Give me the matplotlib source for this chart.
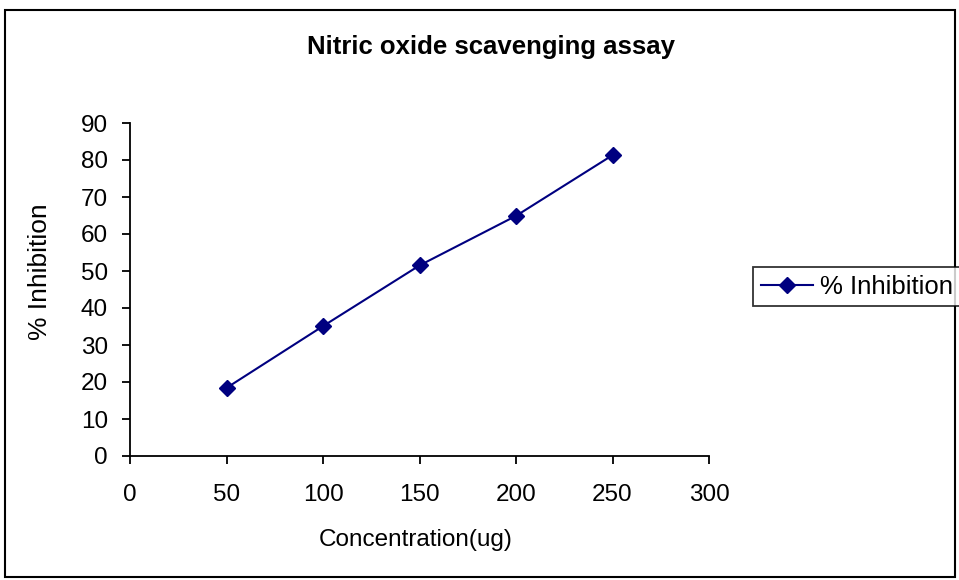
import matplotlib.pyplot as plt
from matplotlib.patches import Rectangle

plt.rcParams['font.family'] = ['Liberation Sans', 'DejaVu Sans']

# data
concentration = [50, 100, 150, 200, 250]
inhibition = [18.4, 35.1, 51.5, 64.9, 81.3]
x_ticks = [0, 50, 100, 150, 200, 250, 300]
y_ticks = [0, 10, 20, 30, 40, 50, 60, 70, 80, 90]

fig = plt.figure(figsize=(9.59, 5.8), dpi=100)
ax = fig.add_axes([130 / 959, 1 - 456 / 580, (709 - 130) / 959, (456 - 123) / 580])

navy = '#000080'
line, = ax.plot(concentration, inhibition, color=navy, linewidth=1.5,
                marker='D', markersize=8, markerfacecolor=navy, markeredgecolor=navy,
                label='% Inhibition')

ax.set_xlim(0, 300)
ax.set_ylim(0, 90)
ax.set_xticks(x_ticks)
ax.set_yticks(y_ticks)
ax.tick_params(direction='out', length=6, width=1.3, labelsize=17.5)
ax.tick_params(axis='x', pad=14)
ax.tick_params(axis='y', pad=10)
for side in ['top', 'right']:
    ax.spines[side].set_visible(False)
for side in ['left', 'bottom']:
    ax.spines[side].set_linewidth(1.3)

ax.set_xlabel('Concentration(ug)', fontsize=17.5)
ax.xaxis.set_label_coords((416 - 130) / 579, (456 - 540) / 333)
ax.xaxis.label.set_va('center')
ax.set_ylabel('% Inhibition', fontsize=19)
ax.yaxis.set_label_coords((40 - 130) / 579, (456 - 272) / 333)
ax.yaxis.label.set_va('center')

fig.text(491 / 959, 1 - 47 / 580, 'Nitric oxide scavenging assay',
         ha='center', va='center', fontsize=18.5, fontweight='bold')

leg = fig.legend(handles=[line], loc='upper left', bbox_to_anchor=(753 / 959, 1 - 267 / 580),
                 fontsize=18.5, frameon=True, fancybox=False, edgecolor='black',
                 borderaxespad=0, handlelength=2.05, handletextpad=0.27, borderpad=0.3)
leg.get_frame().set_linewidth(1.3)

# outer chart border
fig.patches.append(Rectangle((5 / 959, 3 / 580), 1 - 5 / 959 - 4 / 959, 1 - 10 / 580 - 3 / 580,
                             transform=fig.transFigure, fill=False, edgecolor='black',
                             linewidth=1.5))

fig.savefig('out.png', dpi=100)
